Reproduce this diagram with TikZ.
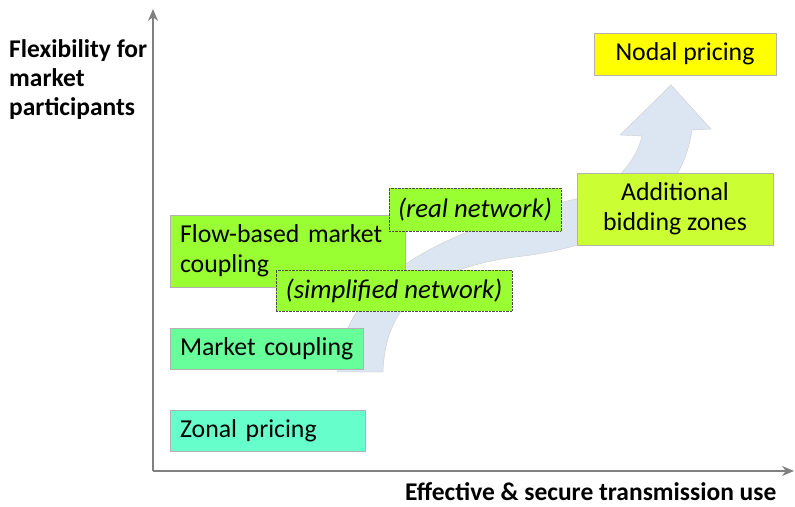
\documentclass[tikz,border=0pt]{standalone}
\usepackage{fontspec}
\setmainfont{Carlito}
\usetikzlibrary{arrows.meta}
\usetikzlibrary{positioning}
\definecolor{zonalcol}{RGB}{102,255,204}
\definecolor{couplecol}{RGB}{102,255,153}
\definecolor{flowcol}{RGB}{153,255,51}
\definecolor{zonescol}{RGB}{204,255,51}
\definecolor{nodalcol}{RGB}{255,255,0}
\definecolor{trendcol}{RGB}{220,230,242}
\definecolor{axiscol}{RGB}{128,128,128}
\tikzstyle{stagebox} = [draw=gray!60, rectangle, inner xsep=10pt, inner ysep=0pt, font=\fontsize{25.8}{30.5}\selectfont]
\tikzstyle{netbox} = [draw=black!70, densely dotted, rectangle, fill=flowcol, inner sep=0pt, font=\fontsize{26.8}{30}\selectfont\itshape]
\tikzstyle{axislabel} = [font=\fontsize{25.5}{29}\selectfont\bfseries, inner sep=0pt, align=left]

\begin{document}
\begin{tikzpicture}[x=1pt,y=-1pt]
\useasboundingbox (0,0) rectangle (795,506);
% axes
\coordinate (origin) at (153,471);
\coordinate (ytop) at (153,9);
\coordinate (xend) at (794,471);
\draw[axiscol, line width=2pt, -{Stealth[length=12pt,width=10pt]}] (origin) -- (ytop);
\draw[axiscol, line width=2pt, -{Stealth[length=12pt,width=10pt]}] (origin) -- (xend);
\node[axislabel, anchor=base west] (ylabel) at (9,115) {Flexibility for\\market\\participants};
\node[axislabel, anchor=base west] (xlabel) at (405,500) {Effective \& secure transmission use};

% trend arrow behind the boxes
\draw[draw=gray!40, fill=trendcol] (337,372) .. controls (343,275) and (450,228) .. (580,198)
  .. controls (612,190) and (636,162) .. (642,136) -- (620,135) -- (671,85) -- (711,129) -- (692,130)
  .. controls (682,200) and (620,246) .. (515,257) .. controls (420,270) and (385,310) .. (383,372) -- cycle;

% stages
\node[stagebox, fill=flowcol, minimum width=235pt, minimum height=72pt, text width=215pt, align=left] (flow) at (287.5,251) {Flow-based market\\coupling};
\node[stagebox, fill=couplecol, minimum width=193pt, minimum height=41pt, text width=173pt, align=left] (coupling) at (266.5,348.5) {\mbox{Market coupling}};
\node[stagebox, fill=zonalcol, minimum width=195pt, minimum height=41pt, text width=175pt, align=left] (zonal) at (267.5,430.5) {Zonal pricing};
\node[netbox, minimum width=172pt, minimum height=43pt] (realnet) at (475,209.5) {(real network)};
\node[netbox, minimum width=236pt, minimum height=41pt] (simplenet) at (394,290.5) {(simplified network)};
\node[stagebox, fill=zonescol, minimum width=196pt, minimum height=72pt, align=center] (zones) at (675,209) {Additional\\bidding zones};
\node[stagebox, fill=nodalcol, minimum width=182pt, minimum height=42pt] (nodal) at (685,54) {Nodal pricing};
\end{tikzpicture}
\end{document}
